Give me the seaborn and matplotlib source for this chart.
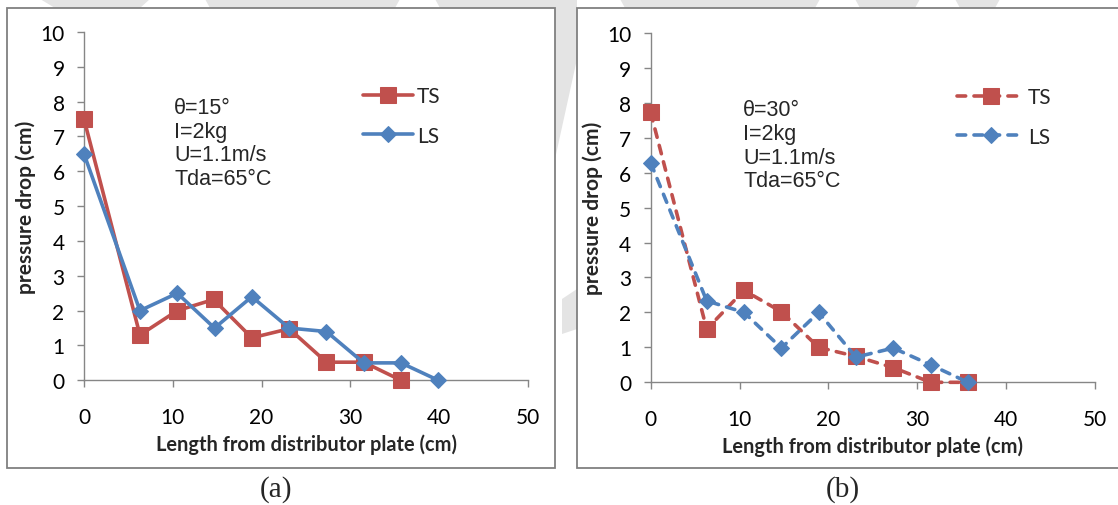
import numpy as np
import pandas as pd
import matplotlib
matplotlib.use("Agg")
import matplotlib.pyplot as plt
import seaborn as sns
from matplotlib.patches import Rectangle, Polygon

# ---------------- data ----------------
x_a_ts = [0, 6.3, 10.5, 14.6, 18.9, 23.1, 27.3, 31.5, 35.7]
y_a_ts = [7.5, 1.3, 2.0, 2.32, 1.22, 1.48, 0.52, 0.52, 0.0]
x_a_ls = [0, 6.3, 10.5, 14.7, 18.9, 23.1, 27.3, 31.5, 35.7, 39.9]
y_a_ls = [6.5, 2.0, 2.5, 1.5, 2.4, 1.5, 1.4, 0.5, 0.5, 0.0]

x_b_ts = [0, 6.3, 10.5, 14.7, 18.9, 23.1, 27.3, 31.5, 35.7]
y_b_ts = [7.72, 1.52, 2.63, 2.02, 1.0, 0.74, 0.42, 0.0, 0.0]
x_b_ls = [0, 6.3, 10.5, 14.7, 18.9, 23.1, 27.3, 31.5, 35.7]
y_b_ls = [6.28, 2.33, 2.0, 0.98, 2.0, 0.72, 0.98, 0.5, 0.0]

x_ticks = [0, 10, 20, 30, 40, 50]
y_ticks = [0, 1, 2, 3, 4, 5, 6, 7, 8, 9, 10]
series_names = ["TS", "LS"]
annot_a = ["θ=15°", "I=2kg", "U=1.1m/s", "Tda=65°C"]
annot_b = ["θ=30°", "I=2kg", "U=1.1m/s", "Tda=65°C"]
x_label = "Length from distributor plate (cm)"
y_label = "pressure drop (cm)"
panel_labels = ["(a)", "(b)"]

# ---------------- style ----------------
sns.set_theme(style="white")
plt.rcParams["font.family"] = ["Lato", "DejaVu Sans"]

RED = "#C0504D"
BLUE = "#4F81BD"
GREY = "#868686"

fig = plt.figure(figsize=(11.18, 5.06), dpi=100)
fig.patch.set_facecolor("white")

# faint watermark shapes in the page margins
wm = "#e4e4e4"
for pts in [
    [(40, 0), (150, 0), (140, 9), (55, 9)],
    [(205, 0), (400, 0), (395, 9), (210, 9)],
    [(435, 0), (560, 0), (560, 9), (440, 9)],
    [(620, 0), (820, 0), (815, 9), (625, 9)],
    [(855, 0), (920, 0), (915, 9), (860, 9)],
    [(955, 0), (1000, 0), (995, 9), (960, 9)],
    [(555, 0), (577, 0), (577, 60), (555, 160)],
    [(562, 300), (577, 290), (577, 330), (562, 335)],
]:
    fig.patches.append(Polygon([(px / 1118, 1 - py / 506) for px, py in pts],
                               closed=True, transform=fig.transFigure,
                               facecolor=wm, edgecolor="none", zorder=0))

# panel frames
fig.patches.append(Rectangle((7 / 1118, 1 - 469 / 506), 548 / 1118, 460 / 506,
                             transform=fig.transFigure, facecolor="white",
                             edgecolor="#808080", lw=1.3, zorder=0.5))
fig.patches.append(Rectangle((577 / 1118, 1 - 469 / 506), 560 / 1118, 460 / 506,
                             transform=fig.transFigure, facecolor="white",
                             edgecolor="#808080", lw=1.3, zorder=0.5))

ax_a = fig.add_axes([84 / 1118, 1 - 381.3 / 506, 444 / 1118, 348.3 / 506])
ax_b = fig.add_axes([650.7 / 1118, 1 - 383.3 / 506, 444.3 / 1118, 349.5 / 506])

dash = (0, (2.4, 2.3))

panels = [
    (ax_a, x_a_ts, y_a_ts, x_a_ls, y_a_ls, "-", annot_a, 0.203, 0.814, 0.628, 2.4),
    (ax_b, x_b_ts, y_b_ts, x_b_ls, y_b_ls, dash, annot_b, 0.208, 0.81, 0.690, 3.2),
]

for ax, xts, yts, xls, yls, ls, annot, tx, ty, lx, hl in panels:
    ax.set_zorder(2)
    ax.set_facecolor("none")
    ax.patch.set_alpha(0)
    sns.lineplot(x=xts, y=yts, ax=ax, color=RED, linewidth=2.6, linestyle=ls,
                 marker="s", markersize=12, markeredgecolor=RED,
                 markerfacecolor=RED, label=series_names[0],
                 dash_capstyle="round", zorder=3, clip_on=False)
    sns.lineplot(x=xls, y=yls, ax=ax, color=BLUE, linewidth=2.6, linestyle=ls,
                 marker="D", markersize=7.8, markeredgecolor=BLUE,
                 markerfacecolor=BLUE, label=series_names[1],
                 dash_capstyle="round", zorder=4, clip_on=False)
    ax.set_xlim(0, 50)
    ax.set_ylim(0, 10)
    ax.set_xticks(x_ticks)
    ax.set_yticks(y_ticks)
    for s in ["top", "right"]:
        ax.spines[s].set_visible(False)
    for s in ["left", "bottom"]:
        ax.spines[s].set_color(GREY)
        ax.spines[s].set_linewidth(1.0)
        ax.spines[s].set_zorder(1)
    ax.tick_params(axis="both", which="major", direction="out", length=5,
                   width=1.0, color=GREY, labelsize=15, labelcolor="black",
                   bottom=True, left=True)
    ax.tick_params(axis="y", pad=9)
    ax.tick_params(axis="x", pad=14)
    ax.set_xlabel(x_label, fontsize=14.4, fontweight="bold", labelpad=5)
    ax.set_ylabel(y_label, fontsize=15, fontweight="bold")
    ax.yaxis.set_label_coords(-0.108, 0.5)
    ax.text(tx, ty, "\n".join(annot), transform=ax.transAxes, ha="left", va="top",
            fontsize=15.5, family=["Liberation Sans", "DejaVu Sans"],
            linespacing=1.17)
    leg = ax.legend(loc="upper left", bbox_to_anchor=(lx, 0.845), frameon=False,
                    fontsize=15, handlelength=hl, handletextpad=0.2,
                    labelspacing=0.95, borderpad=0, borderaxespad=0)

fig.text(276 / 1118, 1 - 490 / 506, panel_labels[0], ha="center", va="center",
         fontsize=21, family=["Liberation Serif"])
fig.text(843 / 1118, 1 - 490 / 506, panel_labels[1], ha="center", va="center",
         fontsize=21, family=["Liberation Serif"])

fig.savefig("out.png", dpi=100)
